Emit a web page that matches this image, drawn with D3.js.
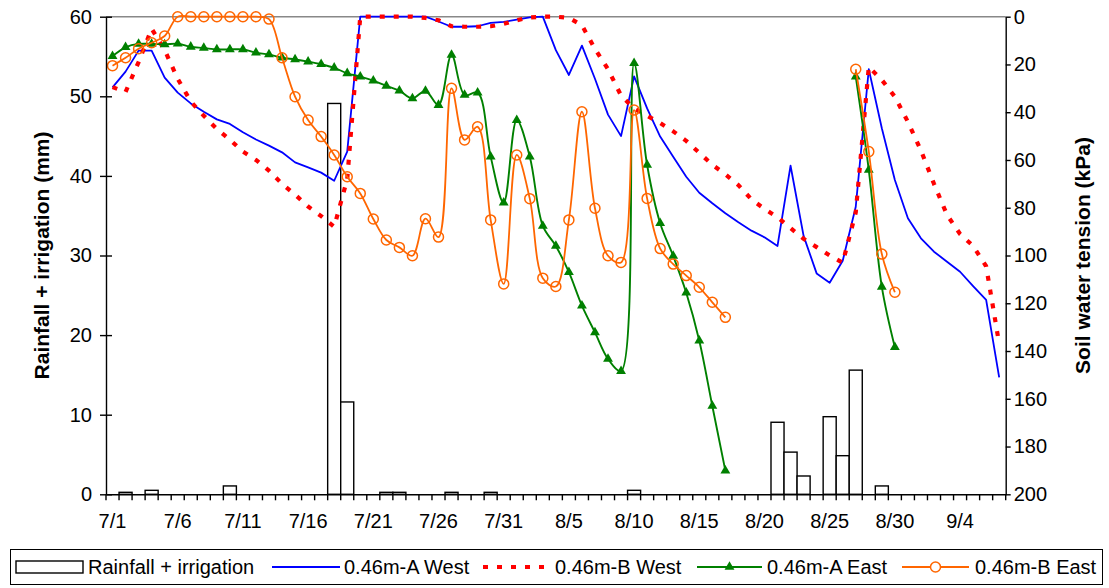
<!DOCTYPE html>
<html>
<head>
<meta charset="utf-8">
<script src="https://cdn.jsdelivr.net/npm/d3@7"></script>
<style>
  html, body { margin: 0; padding: 0; background: #fff; }
  svg text { font-family: "Liberation Sans", Arial, sans-serif; fill: #000; }
</style>
</head>
<body>
<svg id="chart" width="1109" height="588"></svg>
<script>
// Daily categories, 1 July to 7 September
const days = [
  "7/1","7/2","7/3","7/4","7/5","7/6","7/7","7/8","7/9","7/10","7/11","7/12","7/13","7/14","7/15","7/16",
  "7/17","7/18","7/19","7/20","7/21","7/22","7/23","7/24","7/25","7/26","7/27","7/28","7/29","7/30","7/31",
  "8/1","8/2","8/3","8/4","8/5","8/6","8/7","8/8","8/9","8/10","8/11","8/12","8/13","8/14","8/15","8/16",
  "8/17","8/18","8/19","8/20","8/21","8/22","8/23","8/24","8/25","8/26","8/27","8/28","8/29","8/30","8/31",
  "9/1","9/2","9/3","9/4","9/5","9/6","9/7"
];
const dateTicks = ["7/1","7/6","7/11","7/16","7/21","7/26","7/31","8/5","8/10","8/15","8/20","8/25","8/30","9/4"];
const rainTicks = [0, 10, 20, 30, 40, 50, 60];
const tensionTicks = [0, 20, 40, 60, 80, 100, 120, 140, 160, 180, 200];

// Rainfall + irrigation (mm)
const rainfall = [
  0, 0.25, 0, 0.5, 0, 0, 0, 0, 0, 1.05, 0, 0, 0, 0, 0, 0,
  0, 49.1, 11.6, 0, 0, 0.25, 0.25, 0, 0, 0, 0.25, 0, 0, 0.25, 0,
  0, 0, 0, 0, 0, 0, 0, 0, 0, 0.5, 0, 0, 0, 0, 0, 0,
  0, 0, 0, 0, 9.05, 5.3, 2.3, 0, 9.75, 4.85, 15.6, 0, 1.05, 0, 0,
  0, 0, 0, 0, 0, 0, 0
];

// Soil water tension (kPa), 0.46 m sensors
const westA = [
  29.6, 23, 14.2, 14.2, 25.5, 31.8, 36.3, 39.8, 43, 44.9, 48.4, 51.4, 54, 56.8, 61, 63.1,
  65.3, 68.7, 56.5, 0, 0, 0, 0, 0, 0, 2, 4.2, 4.2, 4, 2.6, 2.2,
  1.2, 0.3, 0, 14, 24.4, 12.1, 26, 41, 50, 25, 38.4, 50.2, 58.6, 67, 73.7, 78.1,
  82.3, 86.1, 89.6, 92.4, 96, 62.4, 91.8, 107.5, 111.4, 102.2, 79.6, 22, 46.7, 68.4, 84.4,
  92.8, 98.4, 102.6, 106.8, 112.8, 118.6, 151
];
const westB = [
  29.5, 31.5, 19, 5, 14, 26, 35.5, 41.5, 47, 51.5, 56.5, 60, 64.5, 70, 74.5, 79.5,
  83.5, 88, 68, 0, 0, 0, 0, 0, 0.5, 1.5, 4, 4.2, 4.2, 4, 3,
  1.5, 0.3, 0, 0, 0.5, 3.6, 13.5, 22, 33, 38.5, 41.5, 44.5, 48, 52, 57, 62,
  66, 70.5, 76.5, 80.5, 84, 88.5, 93, 96.5, 100, 103, 82, 21, 26.5, 33.5, 44,
  56, 70, 83, 91, 96, 104.5, 137
];
const eastA = [
  16.5, 12.8, 11.4, 11.4, 11.6, 11.3, 12.6, 13.1, 13.7, 13.7, 13.7, 15.1, 15.8, 17.2, 17.9, 18.8,
  19.9, 21.4, 23.7, 25.1, 26.8, 29, 31, 34.2, 31.1, 37, 16, 32.8, 31.8, 58.6, 77.9,
  43.3, 58.6, 87.6, 96, 107, 121, 132.2, 143.3, 148.4, 19.5, 62.1, 86.5, 100.2, 115.6, 135.7, 163,
  190.1, null, null, null, null, null, null, null, null, null, 25.1, 64.2, 113.1, 138.4, null,
  null, null, null, null, null, null, null
];
const eastB = [
  20.5, 17.2, 13.4, 10.9, 8.1, 0, 0, 0, 0, 0, 0, 0, 1, 17.2, 33.5, 43.3,
  50.2, 57.9, 67, 74, 84.7, 93.5, 96.6, 100.1, 84.6, 92.3, 30, 51.6, 46.1, 85.1, 111.9,
  57.9, 76.2, 109.5, 113, 85.1, 39.8, 80.2, 100.1, 102.9, 39.1, 76.1, 97.1, 103.6, 108.4, 113.3, 119.6,
  125.9, null, null, null, null, null, null, null, null, null, 22, 56.5, 99.4, 115.4, null,
  null, null, null, null, null, null, null
];

const svg = d3.select("#chart");
const plot = { left: 106, right: 1005.7, top: 16.7, bottom: 494.3 };

const x = d3.scaleBand().domain(days).range([plot.left, plot.right]).padding(0);
const yRain = d3.scaleLinear().domain([0, 60]).range([plot.bottom, plot.top]);
const yTension = d3.scaleLinear().domain([0, 200]).range([plot.top, plot.bottom]);
const cx = d => x(d) + x.bandwidth() / 2;

// plot frame (top edge)
svg.append("line")
  .attr("x1", plot.left).attr("x2", plot.right)
  .attr("y1", plot.top).attr("y2", plot.top)
  .attr("stroke", "#888").attr("stroke-width", 1.5);

// rainfall bars
svg.append("g").selectAll("rect")
  .data(days.map((d, i) => ({ d, v: rainfall[i] })).filter(r => r.v > 0))
  .join("rect")
  .attr("x", r => x(r.d))
  .attr("width", x.bandwidth())
  .attr("y", r => yRain(r.v))
  .attr("height", r => yRain(0) - yRain(r.v))
  .attr("fill", "#fff")
  .attr("stroke", "#000")
  .attr("stroke-width", 1.4);

// tension series
const series = [
  { name: "0.46m-A West", values: westA, color: "#0000FF", width: 1.8, curve: d3.curveLinear },
  { name: "0.46m-B West", values: westB, color: "#FF0000", width: 4.2, curve: d3.curveLinear, dash: "5,9" },
  { name: "0.46m-A East", values: eastA, color: "#008000", width: 1.9, curve: d3.curveCatmullRom.alpha(0.5), marker: "triangle" },
  { name: "0.46m-B East", values: eastB, color: "#FF6600", width: 1.8, curve: d3.curveCatmullRom.alpha(0.5), marker: "circle" }
];

series.forEach(s => {
  const pts = days.map((d, i) => ({ d, v: s.values[i] }));
  const line = d3.line()
    .defined(p => p.v !== null)
    .x(p => cx(p.d))
    .y(p => yTension(p.v))
    .curve(s.curve);
  svg.append("path")
    .datum(pts)
    .attr("d", line)
    .attr("fill", "none")
    .attr("stroke", s.color)
    .attr("stroke-width", s.width)
    .attr("stroke-dasharray", s.dash || null)
    .attr("stroke-linejoin", "round");
  const valid = pts.filter(p => p.v !== null);
  if (s.marker === "triangle") {
    svg.append("g").selectAll("path")
      .data(valid).join("path")
      .attr("d", d3.symbol(d3.symbolTriangle, 42))
      .attr("transform", p => `translate(${cx(p.d)},${yTension(p.v)})`)
      .attr("fill", s.color);
  } else if (s.marker === "circle") {
    svg.append("g").selectAll("circle")
      .data(valid).join("circle")
      .attr("cx", p => cx(p.d))
      .attr("cy", p => yTension(p.v))
      .attr("r", 5)
      .attr("fill", "none")
      .attr("stroke", s.color)
      .attr("stroke-width", 1.5);
  }
});

// left axis (rainfall)
const gL = svg.append("g")
  .attr("transform", `translate(${plot.left},0)`)
  .call(d3.axisLeft(yRain).tickValues(rainTicks).tickSize(6).tickPadding(8).tickSizeOuter(0));
gL.selectAll(".tick line").attr("x1", -6).attr("x2", 6);
gL.selectAll("path, line").attr("stroke", "#000").attr("stroke-width", 1.4);
gL.selectAll("text").style("font-size", "20px");

// right axis (tension, reversed)
const gR = svg.append("g")
  .attr("transform", `translate(${plot.right},0)`)
  .call(d3.axisRight(yTension).tickValues(tensionTicks).tickSize(5).tickPadding(3).tickSizeOuter(0));
gR.selectAll("path, line").attr("stroke", "#000").attr("stroke-width", 1.4);
gR.selectAll("text").style("font-size", "20px");

// bottom axis: labels every fifth day, tick marks on day boundaries
const gB = svg.append("g")
  .attr("transform", `translate(0,${plot.bottom})`)
  .call(d3.axisBottom(x).tickValues(dateTicks).tickSize(6).tickPadding(14).tickSizeOuter(0));
gB.selectAll(".tick line").remove();
gB.selectAll("path").attr("stroke", "#000").attr("stroke-width", 1.4);
gB.selectAll("text").style("font-size", "20px");
gB.append("g").selectAll("line")
  .data(days.concat(["end"]))
  .join("line")
  .attr("x1", (d, i) => i < days.length ? x(d) : plot.right)
  .attr("x2", (d, i) => i < days.length ? x(d) : plot.right)
  .attr("y1", 0).attr("y2", 6)
  .attr("stroke", "#000").attr("stroke-width", 1.4);

// axis titles
svg.append("text")
  .attr("transform", `translate(49,${(plot.top + plot.bottom) / 2}) rotate(-90)`)
  .attr("text-anchor", "middle")
  .style("font-size", "21px").style("font-weight", "bold")
  .text("Rainfall + irrigation (mm)");
svg.append("text")
  .attr("transform", `translate(1090,${(plot.top + plot.bottom) / 2}) rotate(-90)`)
  .attr("text-anchor", "middle")
  .style("font-size", "21px").style("font-weight", "bold")
  .text("Soil water tension (kPa)");

// legend
const leg = svg.append("g");
leg.append("rect")
  .attr("x", 10.5).attr("y", 549.5).attr("width", 1092).attr("height", 35)
  .attr("fill", "#fff").attr("stroke", "#000").attr("stroke-width", 1);
const ly = 567;
leg.append("rect")
  .attr("x", 16).attr("y", ly - 6).attr("width", 67).attr("height", 12)
  .attr("fill", "#fff").attr("stroke", "#000").attr("stroke-width", 1.4);
leg.append("text").attr("x", 88).attr("y", ly).attr("dy", "0.35em")
  .style("font-size", "20px").text("Rainfall + irrigation");

const legendItems = [
  { s: series[0], x0: 272, x1: 340, tx: 344 },
  { s: series[1], x0: 483, x1: 552, tx: 555 },
  { s: series[2], x0: 697, x1: 762, tx: 767 },
  { s: series[3], x0: 902, x1: 969, tx: 975 }
];
legendItems.forEach(it => {
  leg.append("line")
    .attr("x1", it.x0).attr("x2", it.x1).attr("y1", ly).attr("y2", ly)
    .attr("stroke", it.s.color)
    .attr("stroke-width", it.s.width)
    .attr("stroke-dasharray", it.s.dash ? "5,9" : null);
  const mx = (it.x0 + it.x1) / 2;
  if (it.s.marker === "triangle") {
    leg.append("path").attr("d", d3.symbol(d3.symbolTriangle, 42))
      .attr("transform", `translate(${mx},${ly})`).attr("fill", it.s.color);
  } else if (it.s.marker === "circle") {
    leg.append("circle").attr("cx", mx).attr("cy", ly).attr("r", 5)
      .attr("fill", "#fff").attr("stroke", it.s.color).attr("stroke-width", 1.5);
  }
  leg.append("text").attr("x", it.tx).attr("y", ly).attr("dy", "0.35em")
    .style("font-size", "20px").text(it.s.name);
});
</script>
</body>
</html>
